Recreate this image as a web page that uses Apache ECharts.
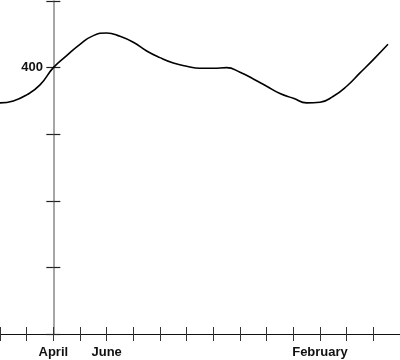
<!DOCTYPE html>
<html><head><meta charset="utf-8">
<script src="https://cdn.jsdelivr.net/npm/echarts@6/dist/echarts.min.js"></script>
<style>html,body{margin:0;padding:0;background:#fff}#c{width:400px;height:360px}</style>
</head><body><div id="c"></div>
<script>
// month offsets relative to April (0 = April), every half month
const monthPos = [-2, -1.5, -1, -0.5, 0, 0.5, 1, 1.5, 2, 2.5, 3, 3.5, 4, 4.5, 5, 5.5, 6, 6.5, 7, 7.5, 8, 8.5, 9, 9.5, 10, 10.5, 11, 11.5, 12, 12.55];
const values   = [347, 350, 359, 374, 400, 418, 435, 448, 452, 447, 438, 425, 415, 407, 402, 399, 399, 400, 393, 383, 372, 361, 354, 347, 348, 357, 372, 392, 412, 435];
const xLabelPos = [0, 2, 10];
const xLabelText = ['April', 'June', 'February'];
const yLabelShown = [400];

const font = '"Liberation Sans Narrow", "Liberation Sans", Arial, sans-serif';
const chart = echarts.init(document.getElementById('c'), null, {renderer: 'canvas'});
const xLab = v => { const i = xLabelPos.indexOf(v); return i >= 0 ? xLabelText[i] : ''; };
const baseX = {type: 'value', min: -2, max: 13, interval: 1, splitLine: {show: false}, position: 'bottom'};
const baseY = {type: 'value', min: 0, max: 500, interval: 100, splitLine: {show: false}, position: 'left'};
chart.setOption({
  animation: false,
  grid: {left: 0, right: 0, top: 1, bottom: 26, containLabel: false, outerBoundsMode: 'none'},
  xAxis: [
    Object.assign({}, baseX, {
      axisLine: {lineStyle: {color: '#111', width: 1.2}},
      axisTick: {inside: false, length: 7, lineStyle: {color: '#333', width: 1}},
      axisLabel: {formatter: xLab, color: '#111', fontFamily: font, fontWeight: 'bold', fontSize: 13, margin: 12, showMinLabel: true, showMaxLabel: true}
    }),
    Object.assign({}, baseX, {
      axisLine: {show: false},
      axisTick: {inside: true, length: 7, lineStyle: {color: '#333', width: 1}},
      axisLabel: {show: false}
    })
  ],
  yAxis: [
    Object.assign({}, baseY, {
      axisLine: {onZero: true, lineStyle: {color: '#888', width: 1.5}},
      axisTick: {inside: false, length: 7, lineStyle: {color: '#222', width: 1.2}},
      axisLabel: {formatter: v => yLabelShown.includes(v) ? String(v) : '', color: '#111', fontFamily: font, fontWeight: 'bold', fontSize: 13, margin: -43, showMaxLabel: true}
    }),
    Object.assign({}, baseY, {
      axisLine: {onZero: true, show: true, lineStyle: {color: 'rgba(0,0,0,0)'}},
      axisTick: {inside: true, length: 7, lineStyle: {color: '#222', width: 1.2}},
      axisLabel: {show: false}
    })
  ],
  series: [{
    type: 'line',
    data: monthPos.map((m, i) => [m, values[i]]),
    smooth: 0.5,
    showSymbol: false,
    lineStyle: {color: '#000', width: 1.6}
  }]
});
</script></body></html>
